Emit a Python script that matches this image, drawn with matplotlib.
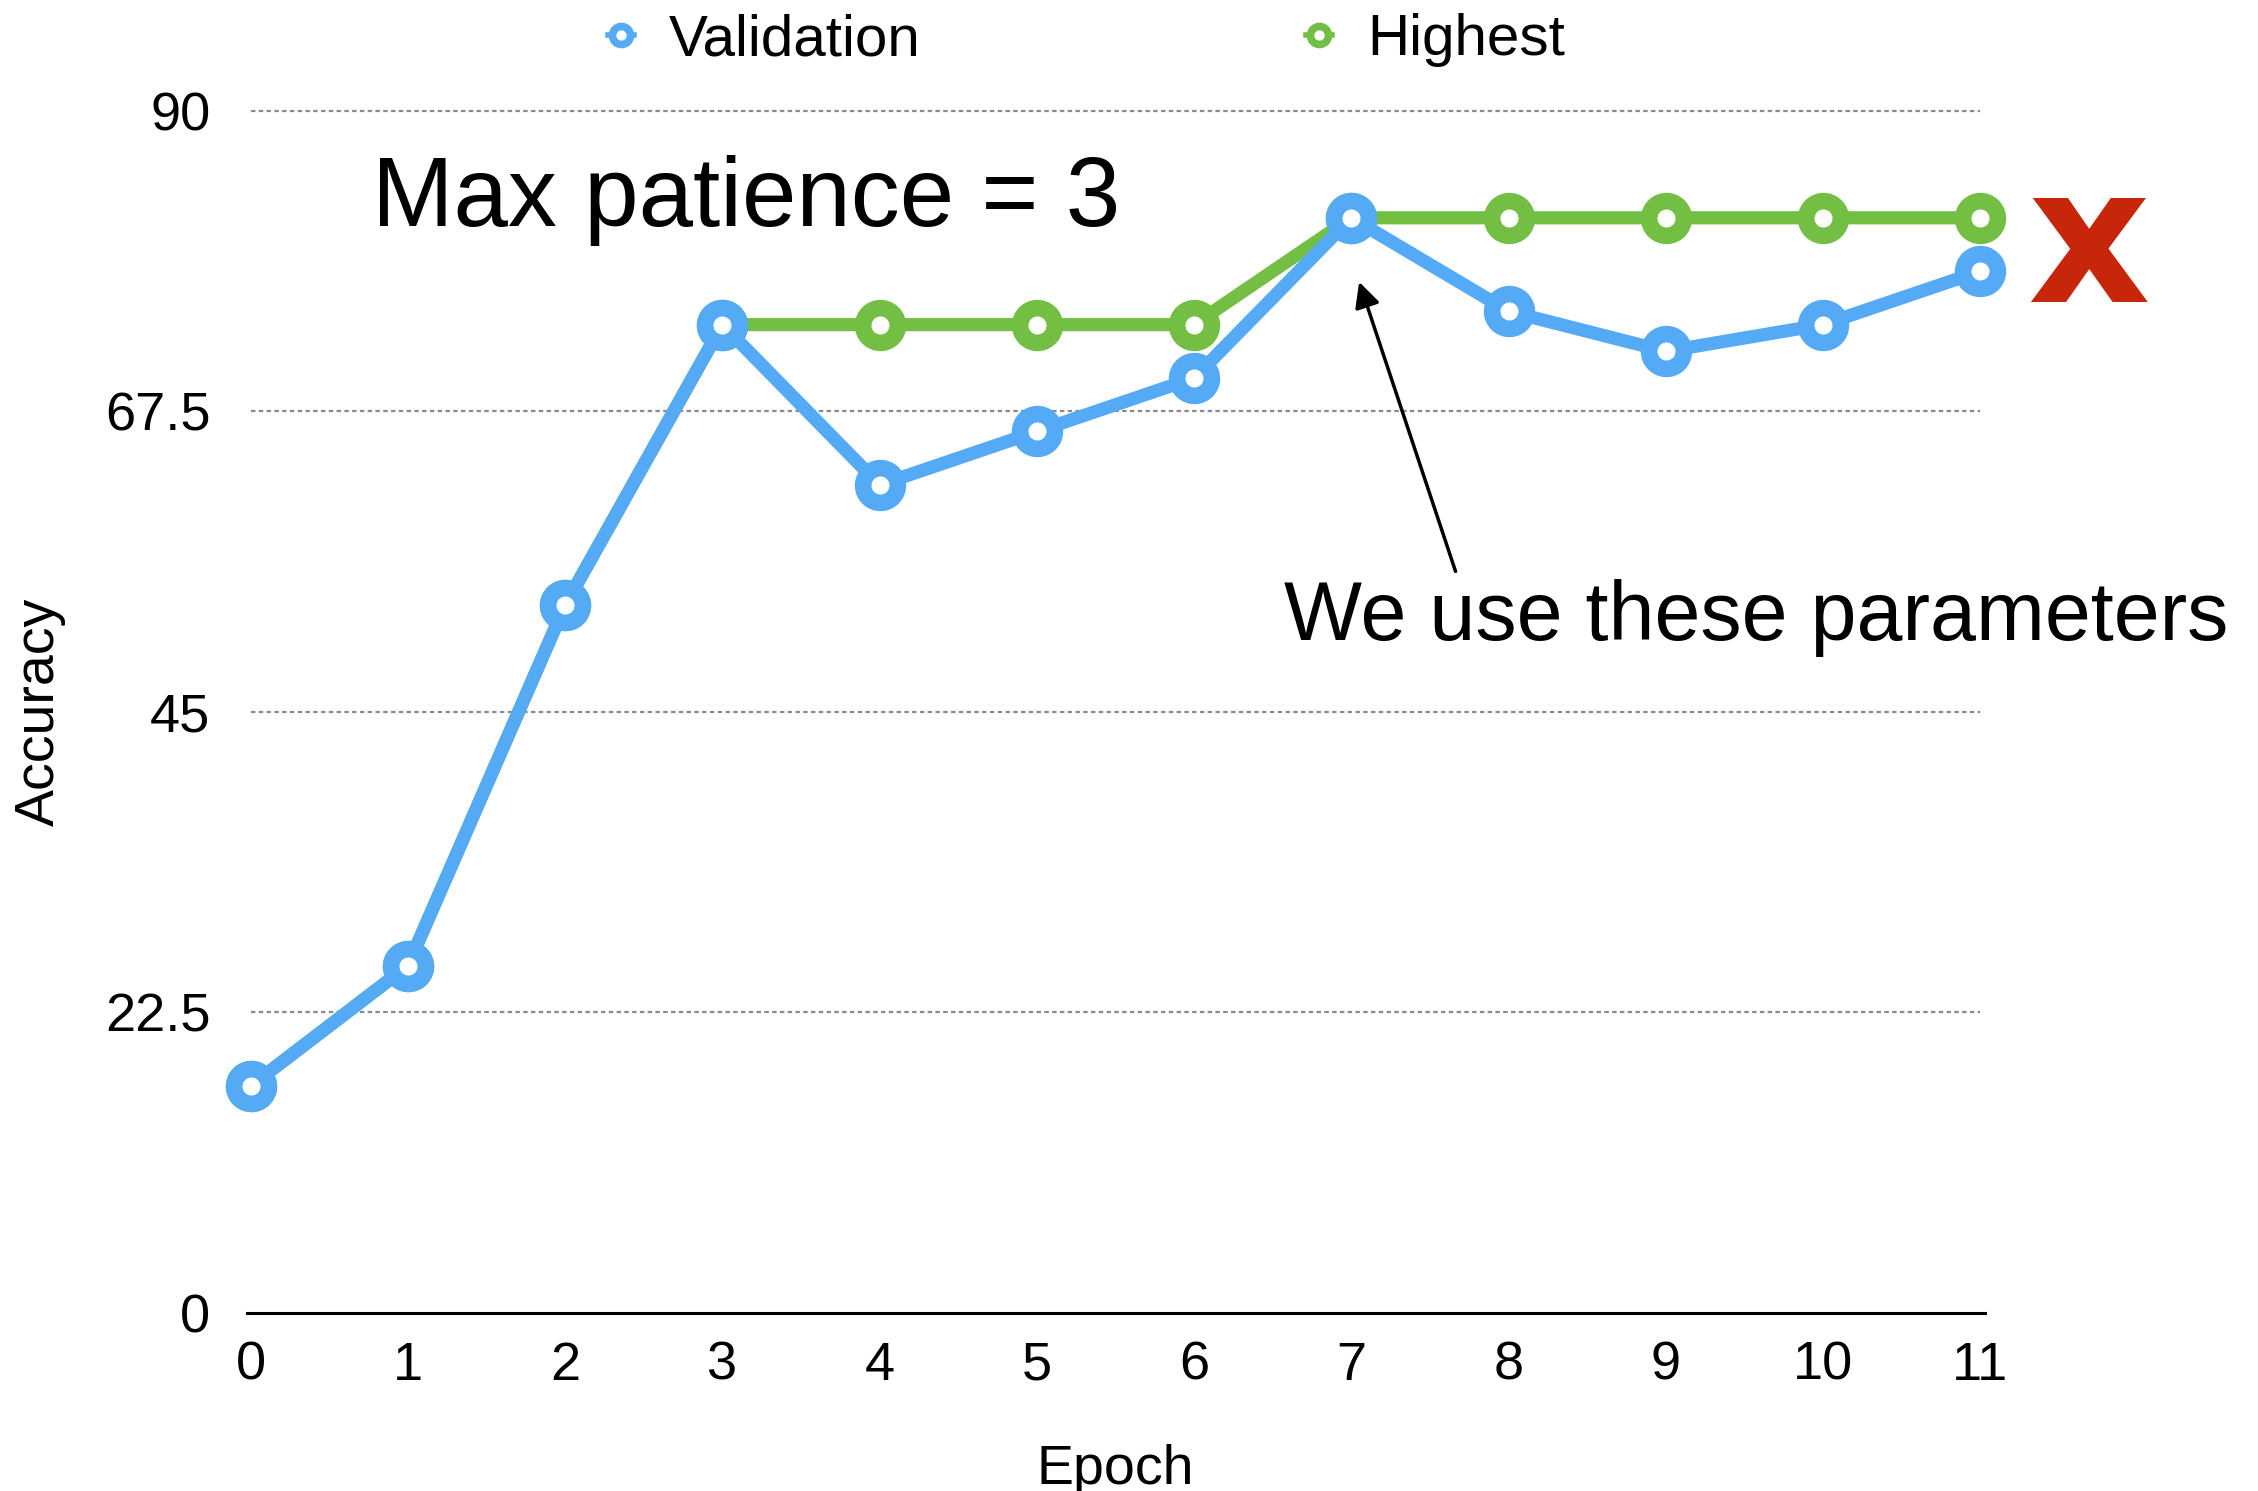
import matplotlib
matplotlib.use('Agg')
import matplotlib.pyplot as plt
from matplotlib.lines import Line2D

plt.rcParams['font.family'] = ['Liberation Sans', 'DejaVu Sans']

epochs = [0, 1, 2, 3, 4, 5, 6, 7, 8, 9, 10, 11]
validation = [17.0, 26.0, 53.0, 74.0, 62.0, 66.0, 70.0, 82.0, 75.0, 72.0, 74.0, 78.0]
highest = [17.0, 26.0, 53.0, 74.0, 74.0, 74.0, 74.0, 82.0, 82.0, 82.0, 82.0, 82.0]
yticks = [0, 22.5, 45, 67.5, 90]
ytick_labels = ['0', '22.5', '45', '67.5', '90']

blue = '#55aaf6'
green = '#73bf44'
red = '#c8260a'

fig = plt.figure(figsize=(22.58, 14.91), dpi=100)
ax = fig.add_axes([0.111, 0.1194, 0.766, 0.8062])

# highest first so validation sits on top
ax.plot(epochs, highest, color=green, lw=9.5, marker='o', ms=25, mew=12,
        mfc='white', mec=green, zorder=3, solid_capstyle='round')
ax.plot(epochs, validation, color=blue, lw=9.5, marker='o', ms=25, mew=12,
        mfc='white', mec=blue, zorder=4, solid_capstyle='round')

ax.set_xlim(0, 11)
ax.set_ylim(0, 90)
ax.set_xticks(epochs)
ax.set_yticks(yticks)
ax.set_yticklabels(ytick_labels)
ax.tick_params(axis='both', length=0, labelsize=39)
ax.tick_params(axis='x', pad=20)
ax.tick_params(axis='y', pad=29)

for g in yticks[1:]:
    ax.axhline(g, color='#8a8a8a', lw=1.6, ls=(0, (2, 1.5)), zorder=1)

for s in ['top', 'right', 'left']:
    ax.spines[s].set_visible(False)
ax.spines['bottom'].set_linewidth(2.2)
ax.spines['bottom'].set_bounds(-0.02, 11.03)
for sp in ax.spines.values():
    sp.set_clip_on(False)

for line in ax.get_lines():
    line.set_clip_on(False)

ax.set_xlabel('Epoch', fontsize=40, labelpad=38)
ax.set_ylabel('Accuracy', fontsize=40, labelpad=28)

ax.text(0.77, 83.3, 'Max patience = 3', fontsize=70.5, va='center', ha='left')

ax.annotate('We use these parameters', xy=(7.05, 77.2), xytext=(6.575, 52.0),
            fontsize=59.5, ha='left', va='center',
            arrowprops=dict(arrowstyle='-|>', color='black', lw=2.5,
                            mutation_scale=38, shrinkA=4, shrinkB=0,
                            relpos=(0.184, 1.0)))

ax.text(11.69, 79.6, 'x', color=red, fontsize=137, fontweight='bold',
        family='DejaVu Sans', ha='center', va='center', clip_on=False)

handles = [Line2D([], [], color=blue, lw=4, marker='o', ms=13, mew=5.5, mfc='white', mec=blue),
           Line2D([], [], color=green, lw=4, marker='o', ms=13, mew=5.5, mfc='white', mec=green)]
fig.legend(handles, ['Validation', 'Highest'], loc='center', bbox_to_anchor=(0.481, 0.973),
           ncol=2, frameon=False, fontsize=42, handlelength=0.45, handletextpad=0.6,
           columnspacing=6.6)

fig.savefig('out.png', dpi=100)
